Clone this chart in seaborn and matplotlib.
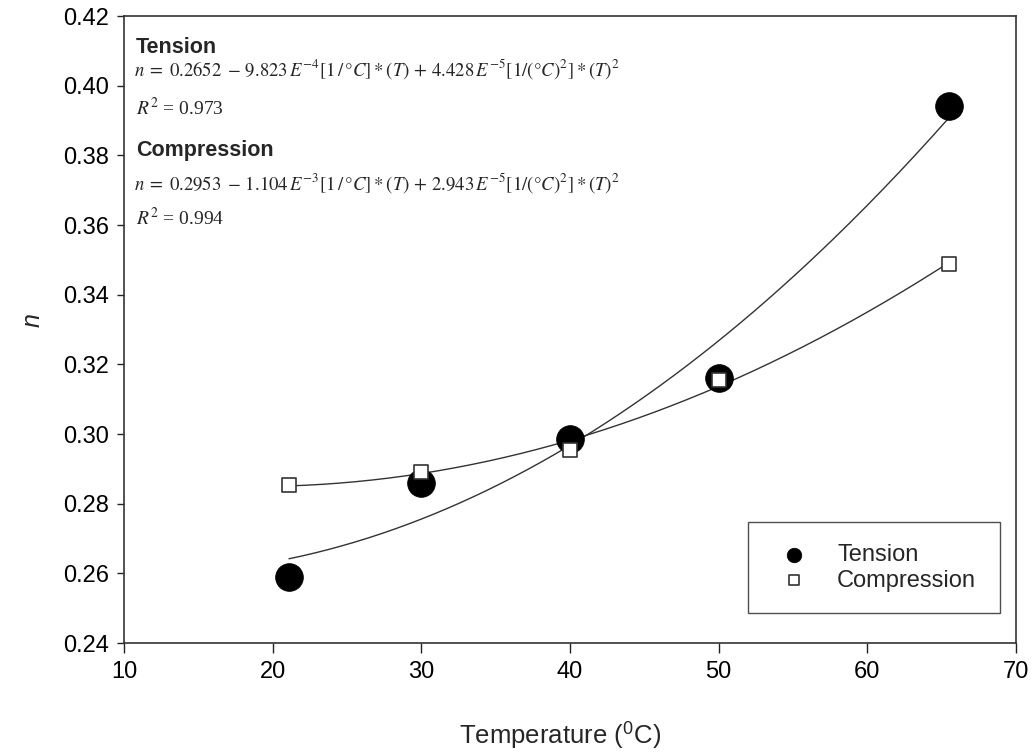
import numpy as np
import pandas as pd
import matplotlib
matplotlib.use("Agg")
import matplotlib.pyplot as plt
import seaborn as sns

# Measured exponent n versus temperature
temp_tension = [21.1, 30.0, 40.0, 50.0, 65.5]
n_tension = [0.2589, 0.2859, 0.2985, 0.3162, 0.3941]
temp_compression = [21.1, 30.0, 40.0, 50.0, 65.5]
n_compression = [0.2853, 0.2891, 0.2954, 0.3155, 0.3488]

# Quadratic fit coefficients: n = a + b*T + c*T^2
fit_tension = [0.2652, -9.823e-4, 4.428e-5]
fit_compression = [0.2953, -1.104e-3, 2.943e-5]

sns.set_theme(style="ticks")
plt.rcParams["font.family"] = ["Liberation Sans", "DejaVu Sans"]
plt.rcParams["mathtext.fontset"] = "stix"

fig = plt.figure(figsize=(10.34, 7.52), dpi=100)
ax = fig.add_axes([0.1199, 0.1449, 0.8627, 0.8338])

def quad(coef, t):
    return coef[0] + coef[1] * t + coef[2] * t ** 2

t_fit = np.linspace(min(temp_tension), max(temp_tension), 200)
curves = pd.concat([
    pd.DataFrame({"T": t_fit, "n": quad(fit_tension, t_fit), "set": "Tension"}),
    pd.DataFrame({"T": t_fit, "n": quad(fit_compression, t_fit), "set": "Compression"}),
])
sns.lineplot(data=curves, x="T", y="n", units="set", estimator=None,
             color="#333333", linewidth=1.0, ax=ax, legend=False, zorder=2)

df_t = pd.DataFrame({"T": temp_tension, "n": n_tension})
df_c = pd.DataFrame({"T": temp_compression, "n": n_compression})
sns.scatterplot(data=df_t, x="T", y="n", marker="o", s=20 ** 2,
                color="black", edgecolor="black", linewidth=0.5, ax=ax,
                zorder=3, label="Tension")
sns.scatterplot(data=df_c, x="T", y="n", marker="s", s=10 ** 2,
                facecolor="white", edgecolor="#333333", linewidth=1.2, ax=ax,
                zorder=4, label="Compression")

ax.set_xlim(10, 70)
ax.set_ylim(0.24, 0.42)
ax.set_xticks(range(10, 71, 10))
ax.set_yticks(np.arange(0.24, 0.4201, 0.02))
ax.set_yticklabels([f"{v:.2f}" for v in np.arange(0.24, 0.4201, 0.02)])
ax.tick_params(direction="out", length=5, width=1, colors="#222222",
               labelsize=17, labelcolor="black", pad=6)
ax.tick_params(axis="x", length=7)
for sp in ax.spines.values():
    sp.set_visible(True)
    sp.set_color("#333333")
    sp.set_linewidth(1.2)

ax.set_xlabel(r"Temperature ($^{\mathregular{0}}$C)", fontsize=18.5, va="center")
ax.xaxis.set_label_coords(0.4888, -0.1467)
ax.set_ylabel("n", fontsize=18, fontstyle="italic", va="center")
ax.yaxis.set_label_coords(-0.103, 0.515)

# Fit equations
eq_t = (r"$n\;=\;0.2652\;-\,9.823\,E^{-4}[1\,/\,\degree C]*(T)\,+\,"
        r"4.428\,E^{-5}[1/(\degree C)^2]*(T)^2$")
eq_c = (r"$n\;=\;0.2953\;-\,1.104\,E^{-3}[1\,/\,\degree C]*(T)\,+\,"
        r"2.943\,E^{-5}[1/(\degree C)^2]*(T)^2$")

def px(xp, yp):
    return ((xp - 124) / 892.0, (643 - yp) / 627.0)

ax.text(*px(136, 47), "Tension", transform=ax.transAxes, fontsize=15.5,
        fontweight="bold", va="center", ha="left")
ax.text(*px(134, 69), eq_t, transform=ax.transAxes, fontsize=13.5,
        va="center", ha="left")
ax.text(*px(136, 108), r"$R^2$ = 0.973", transform=ax.transAxes, fontsize=14,
        va="center", ha="left", family="Liberation Serif")
ax.text(*px(136, 150), "Compression", transform=ax.transAxes, fontsize=15.5,
        fontweight="bold", va="center", ha="left")
ax.text(*px(134, 183), eq_c, transform=ax.transAxes, fontsize=13.5,
        va="center", ha="left")
ax.text(*px(136, 218), r"$R^2$ = 0.994", transform=ax.transAxes, fontsize=14,
        va="center", ha="left", family="Liberation Serif")

x0, y_top = px(748, 522)
x1, y_bot = px(1000, 616)
leg = ax.legend(loc="upper left", bbox_to_anchor=(x0, y_bot, x1 - x0, y_top - y_bot),
                mode="expand", fontsize=17, frameon=True, fancybox=False,
                borderpad=0.93, handletextpad=0.85, labelspacing=0.15,
                borderaxespad=0)
leg.get_frame().set_edgecolor("#222222")
leg.get_frame().set_linewidth(1.0)
leg.legend_handles[0].set_sizes([110])
leg.legend_handles[1].set_sizes([60])

fig.savefig("out.png", dpi=100)
